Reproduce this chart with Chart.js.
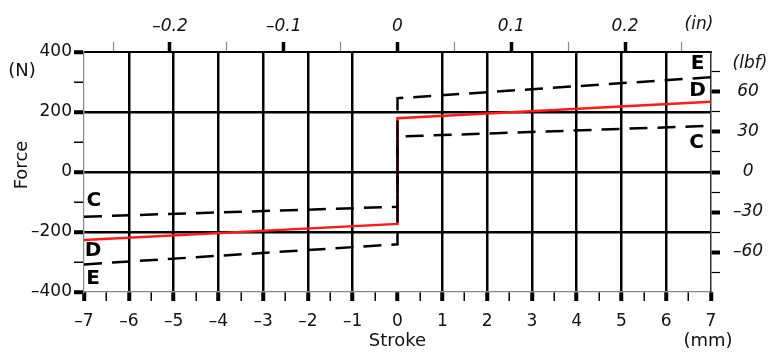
<!DOCTYPE html>
<html><head><meta charset="utf-8">
<script src="https://cdn.jsdelivr.net/npm/chart.js@4"></script>
<style>html,body{margin:0;padding:0;background:#fff}canvas{display:block}</style>
</head><body>
<canvas id="c" width="770" height="352"></canvas>
<script>
// ---- data ----
const strokeMM = [-7, 0, 0, 7];
const forceC = [-149, -116, 118, 154];
const forceD = [-227, -173, 179, 234];
const forceE = [-308, -241, 246, 316];

// ---- tick values ----
const mmMajorTicks = [-7, -6, -5, -4, -3, -2, -1, 0, 1, 2, 3, 4, 5, 6, 7];
const mmMinorTicks = [-6.5, -5.5, -4.5, -3.5, -2.5, -1.5, -0.5, 0.5, 1.5, 2.5, 3.5, 4.5, 5.5, 6.5];
const newtonMajorTicks = [-400, -200, 0, 200, 400];
const newtonMinorTicks = [-300, -100, 100, 300];
const inchMajorTicks = [-0.2, -0.1, 0, 0.1, 0.2];
const inchMinorTicks = [-0.25, -0.15, -0.05, 0.05, 0.15, 0.25];
const lbfMajorTicks = [-60, -30, 0, 30, 60];
const lbfMinorTicks = [-75, -45, -15, 15, 45, 75];

// curve name labels (anchored in data units)
const curveLabels = [
  {text: 'E', x: 6.7, y: 360}, {text: 'D', x: 6.7, y: 272}, {text: 'C', x: 6.68, y: 99},
  {text: 'C', x: -6.78, y: -95}, {text: 'D', x: -6.8, y: -262}, {text: 'E', x: -6.8, y: -356}
];

const MM_PER_IN = 25.4, N_PER_LBF = 4.44822;
const FONT = '"DejaVu Sans", sans-serif';
const TXT = '#111';

const pts = ys => strokeMM.map((x, i) => ({x, y: ys[i]}));
const isIn = (arr, v) => arr.some(a => Math.abs(a - v) < 1e-9);
const fmt = (v, d) => { if (Math.abs(v) < 1e-9) return '0'; const s = Math.abs(v).toFixed(d); return v < 0 ? '\u2013' + s : s; };
const setTicks = (major, minor) => s => { s.ticks = major.concat(minor).sort((a, b) => a - b).map(v => ({value: v})); };

const annot = {
  id: 'annot',
  afterDraw(chart) {
    const ctx = chart.ctx, xs = chart.scales.x, ys = chart.scales.y;
    ctx.save();
    ctx.fillStyle = TXT; ctx.textAlign = 'center'; ctx.textBaseline = 'middle';
    ctx.font = '18px ' + FONT;
    ctx.fillText('(N)', 22, 71);
    ctx.fillText('Stroke', xs.getPixelForValue(0), 341);
    ctx.fillText('(mm)', 708, 341);
    ctx.save(); ctx.translate(22, 165); ctx.rotate(-Math.PI / 2); ctx.fillText('Force', 0, 0); ctx.restore();
    ctx.font = 'italic 17px ' + FONT;
    ctx.fillText('(in)', 699, 25);
    ctx.fillText('(lbf)', 750, 64);
    ctx.font = 'bold 20px ' + FONT;
    ctx.fillStyle = '#000';
    curveLabels.forEach(l => ctx.fillText(l.text, xs.getPixelForValue(l.x), ys.getPixelForValue(l.y)));
    ctx.restore();
  }
};

const dashed = {borderColor: '#000', borderWidth: 2.5, borderDash: [18, 10], pointRadius: 0, fill: false, tension: 0};

new Chart(document.getElementById('c'), {
  type: 'line',
  data: {
    datasets: [
      Object.assign({label: 'C', data: pts(forceC), order: 0}, dashed),
      Object.assign({label: 'E', data: pts(forceE), order: 1}, dashed),
      {label: 'D', data: pts(forceD), order: 2, borderColor: '#ff1a1a', borderWidth: 2.5, pointRadius: 0, fill: false, tension: 0}
    ]
  },
  options: {
    responsive: false, animation: false, devicePixelRatio: 1,
    layout: {padding: 0},
    plugins: {legend: {display: false}, tooltip: {enabled: false}},
    scales: {
      x: {
        type: 'linear', position: 'bottom', min: -7, max: 7,
        afterBuildTicks: setTicks(mmMajorTicks, mmMinorTicks),
        afterFit: s => { s.height = 60; },
        ticks: {autoSkip: false, maxRotation: 0, padding: 10, color: TXT, font: {family: FONT, size: 17},
          callback: v => isIn(mmMajorTicks, v) ? fmt(v, 0) : ''},
        grid: {
          color: c => (isIn(mmMajorTicks, c.tick.value) && Math.abs(c.tick.value) < 7 && c.tick.value !== 0) ? '#000' : 'rgba(0,0,0,0)',
          lineWidth: 2.5, tickColor: '#000', tickLength: 9,
          tickWidth: c => isIn(mmMajorTicks, c.tick.value) ? 4 : 1.5
        },
        border: {color: '#888', width: 1.2}
      },
      x2: {
        type: 'linear', position: 'top', min: -7 / MM_PER_IN, max: 7 / MM_PER_IN,
        afterBuildTicks: setTicks(inchMajorTicks, inchMinorTicks),
        afterFit: s => { s.height = 52; },
        ticks: {autoSkip: false, maxRotation: 0, padding: 5, color: TXT, font: {family: FONT, size: 17, style: 'italic'},
          callback: v => isIn(inchMajorTicks, v) ? fmt(v, 1) : ''},
        grid: {
          drawOnChartArea: false, tickLength: 10,
          tickColor: c => isIn(inchMajorTicks, c.tick.value) ? '#000' : '#888',
          tickWidth: c => isIn(inchMajorTicks, c.tick.value) ? 3.5 : 1.2
        },
        border: {color: '#000', width: 2}
      },
      y: {
        type: 'linear', position: 'left', min: -400, max: 400,
        afterBuildTicks: setTicks(newtonMajorTicks, newtonMinorTicks),
        afterFit: s => { s.width = 84; },
        ticks: {autoSkip: false, padding: 2, color: TXT, font: {family: FONT, size: 17},
          callback: v => isIn(newtonMajorTicks, v) ? fmt(v, 0) : ''},
        grid: {
          color: c => (isIn(newtonMajorTicks, c.tick.value) && Math.abs(c.tick.value) < 400) ? '#000' : 'rgba(0,0,0,0)',
          lineWidth: 2.5, tickColor: '#000', tickLength: 10,
          tickWidth: c => isIn(newtonMajorTicks, c.tick.value) ? 4 : 1.5
        },
        border: {color: '#888', width: 1.2}
      },
      y2: {
        type: 'linear', position: 'right', min: -400 / N_PER_LBF, max: 400 / N_PER_LBF,
        afterBuildTicks: setTicks(lbfMajorTicks, lbfMinorTicks),
        afterFit: s => { s.width = 59; },
        ticks: {autoSkip: false, padding: 13, crossAlign: 'center', color: TXT, font: {family: FONT, size: 17, style: 'italic'},
          callback: v => isIn(lbfMajorTicks, v) ? fmt(v, 0) : ''},
        grid: {
          drawOnChartArea: false, tickLength: 9, tickColor: '#000',
          tickWidth: c => isIn(lbfMajorTicks, c.tick.value) ? 4 : 1.2
        },
        border: {color: '#333', width: 1.5}
      }
    }
  },
  plugins: [annot]
});
</script>
</body></html>
